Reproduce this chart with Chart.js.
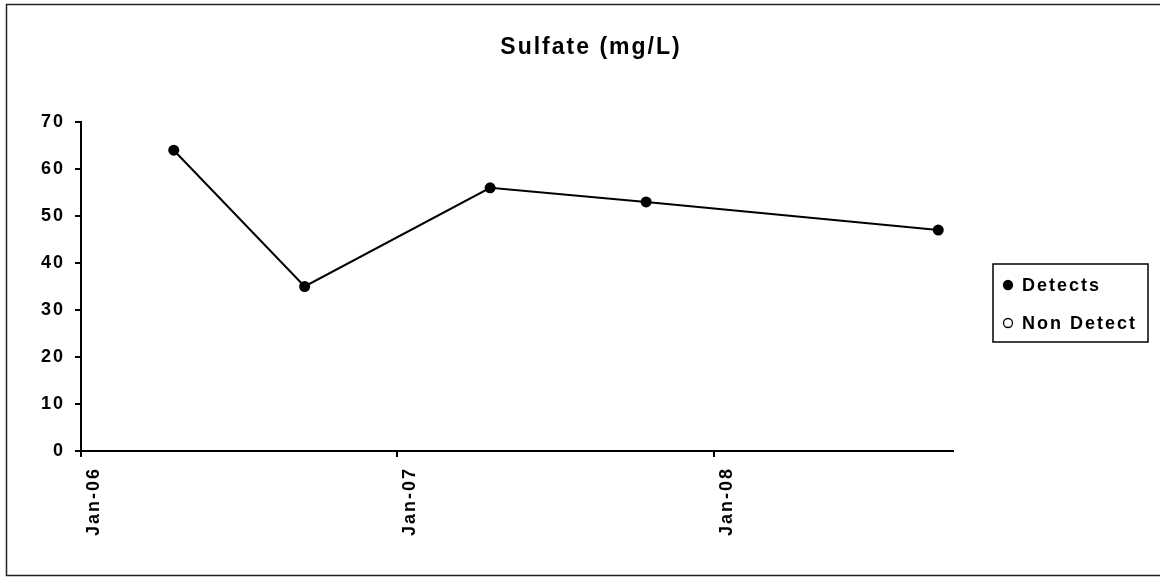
<!DOCTYPE html>
<html>
<head>
<meta charset="utf-8">
<script src="https://cdn.jsdelivr.net/npm/chart.js@4/dist/chart.umd.min.js"></script>
<style>
html,body{margin:0;padding:0;background:#fff;}
#wrap{width:1160px;height:577px;position:relative;}
</style>
</head>
<body>
<div id="wrap"><canvas id="c" width="1160" height="577"></canvas></div>
<script>
// ---- data ----
const chartTitle = 'Sulfate (mg/L)';
const sampleDates = ['2006-04-18', '2006-09-16', '2007-04-18', '2007-10-15', '2008-09-16'];
const detectValues = [64, 35, 56, 53, 47];
const nonDetectDates = [];
const nonDetectValues = [];
const seriesLabels = ['Detects', 'Non Detect'];
const xTickDates = ['2006-01-01', '2007-01-01', '2008-01-01'];
const xTickLabels = ['Jan-06', 'Jan-07', 'Jan-08'];
const xMaxDate = '2008-10-03';
const yMin = 0, yMax = 70, yStep = 10;

// ---- helpers ----
const originMs = Date.UTC(2006, 0, 1);
function dayNum(s) {
  const p = s.split('-').map(Number);
  return (Date.UTC(p[0], p[1] - 1, p[2]) - originMs) / 86400000;
}
const xTickDays = xTickDates.map(dayNum);
const FONT = "'Liberation Sans', Arial, sans-serif";

const framePlugin = {
  id: 'frame',
  beforeUpdate(chart) { chart.ctx.letterSpacing = '2px'; },
  beforeLayout(chart) { chart.ctx.letterSpacing = '2px'; },
  beforeDraw(chart) {
    const ctx = chart.ctx;
    ctx.save();
    ctx.fillStyle = '#fff';
    ctx.fillRect(0, 0, chart.width, chart.height);
    ctx.strokeStyle = '#222';
    ctx.lineWidth = 1.5;
    ctx.strokeRect(6.5, 4.5, chart.width + 10, chart.height - 6);
    ctx.restore();
    ctx.letterSpacing = '2px';
  },
  afterDraw(chart) {
    const ctx = chart.ctx;
    ctx.save();
    ctx.letterSpacing = '2px';
    ctx.fillStyle = '#000';
    ctx.font = 'bold 23px ' + FONT;
    ctx.textAlign = 'center';
    ctx.textBaseline = 'middle';
    ctx.fillText(chartTitle, 591, 48);
    ctx.restore();
  }
};

const legendPlugin = {
  id: 'boxLegend',
  afterDraw(chart) {
    const ctx = chart.ctx;
    const ca = chart.chartArea;
    const bx = ca.right + 40, by = 264, bw = 155, bh = 78;
    ctx.save();
    ctx.letterSpacing = '2px';
    ctx.strokeStyle = '#000';
    ctx.lineWidth = 1.5;
    ctx.strokeRect(bx, by, bw, bh);
    ctx.font = 'bold 18px ' + FONT;
    ctx.textBaseline = 'middle';
    ctx.textAlign = 'left';
    chart.data.datasets.forEach((ds, i) => {
      const y = by + 21 + i * 38;
      ctx.beginPath();
      ctx.arc(bx + 15, y, 4.5, 0, Math.PI * 2);
      ctx.fillStyle = ds.pointBackgroundColor;
      ctx.fill();
      ctx.lineWidth = 1.3;
      ctx.strokeStyle = '#000';
      ctx.stroke();
      ctx.fillStyle = '#000';
      ctx.fillText(ds.label, bx + 29, y + 1);
    });
    ctx.restore();
  }
};

new Chart(document.getElementById('c'), {
  type: 'line',
  data: {
    datasets: [
      {
        label: seriesLabels[0],
        data: sampleDates.map((d, i) => ({ x: dayNum(d), y: detectValues[i] })),
        borderColor: '#000',
        borderWidth: 2,
        pointBackgroundColor: '#000',
        pointBorderColor: '#000',
        pointRadius: 5.5,
        pointBorderWidth: 0,
        tension: 0
      },
      {
        label: seriesLabels[1],
        data: nonDetectDates.map((d, i) => ({ x: dayNum(d), y: nonDetectValues[i] })),
        borderColor: '#000',
        showLine: false,
        pointBackgroundColor: '#fff',
        pointBorderColor: '#000',
        pointRadius: 5,
        pointBorderWidth: 1.5
      }
    ]
  },
  options: {
    responsive: false,
    animation: false,
    events: [],
    layout: { padding: { left: 0, right: 207, top: 122, bottom: 0 } },
    plugins: {
      legend: { display: false },
      tooltip: { enabled: false },
      title: { display: false }
    },
    scales: {
      x: {
        type: 'linear',
        min: 0,
        max: dayNum(xMaxDate),
        afterBuildTicks(scale) { scale.ticks = xTickDays.map(v => ({ value: v })); },
        afterFit(scale) { scale.height = 126; },
        ticks: {
          autoSkip: false,
          minRotation: 90,
          maxRotation: 90,
          padding: 10,
          labelOffset: 13,
          color: '#000',
          font: { family: FONT, size: 18, weight: 'bold' },
          callback(value) {
            const i = xTickDays.indexOf(value);
            return i >= 0 ? xTickLabels[i] : '';
          }
        },
        grid: { display: true, drawOnChartArea: false, drawTicks: true, tickLength: 6, color: '#000', lineWidth: 2 },
        border: { display: true, color: '#000', width: 2 }
      },
      y: {
        type: 'linear',
        min: yMin,
        max: yMax,
        afterFit(scale) { scale.width = 81; },
        ticks: {
          stepSize: yStep,
          padding: 10,
          color: '#000',
          font: { family: FONT, size: 18, weight: 'bold' }
        },
        grid: { display: true, drawOnChartArea: false, drawTicks: true, tickLength: 6, color: '#000', lineWidth: 2 },
        border: { display: true, color: '#000', width: 2 }
      }
    }
  },
  plugins: [framePlugin, legendPlugin]
});
</script>
</body>
</html>
